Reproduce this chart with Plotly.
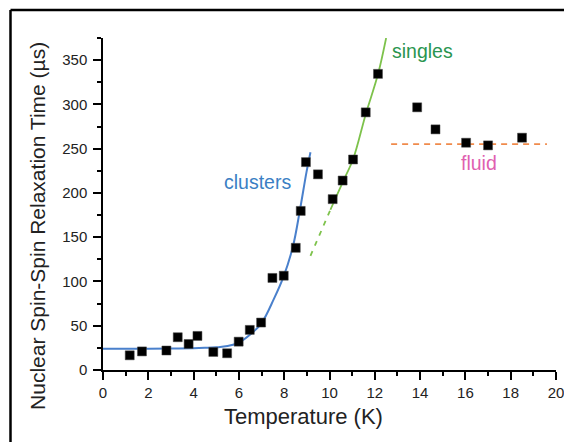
import plotly.graph_objects as go

# Measured data (Temperature K, T2 µs)
temp_k = [1.18, 1.72, 2.80, 3.30, 3.78, 4.17, 4.87, 5.48, 5.99, 6.48, 6.98, 7.48, 7.98, 8.51, 8.73,
          8.96, 9.49, 10.14, 10.58, 11.04, 11.60, 12.14, 13.87, 14.68, 16.03, 17.00, 18.50]
t2_us = [16.6, 21.0, 22.0, 37.0, 29.4, 38.5, 20.4, 18.9, 32.0, 45.3, 53.6, 104.0, 106.5, 138.0, 179.7,
         234.8, 221.0, 193.0, 214.0, 237.8, 291.0, 334.5, 296.7, 271.8, 256.7, 253.7, 262.4]

# Cluster fit curve
clusters_x = [0, 1, 2, 3, 4, 4.5, 5, 5.5, 6, 6.5, 7, 7.54, 7.98, 8.39, 8.69, 8.98, 9.16]
clusters_y = [24, 24, 24.1, 24.3, 24.6, 25, 25.6, 27, 31, 40, 53, 80, 106, 140, 180, 223, 246]

# Singles fit (solid part) and its dashed extrapolation
singles_x = [10.04, 10.58, 11.04, 11.60, 12.14, 12.50]
singles_y = [181, 212, 238, 289, 334, 375]
singles_ext_x = [9.16, 10.04]
singles_ext_y = [129, 181]

# Fluid level
fluid_x = [12.72, 19.6]
fluid_y = [255.2, 255.2]

# Tick values
x_ticks = [0, 2, 4, 6, 8, 10, 12, 14, 16, 18, 20]
y_ticks = [0, 50, 100, 150, 200, 250, 300, 350]

FONT = "Liberation Sans, Arial, Helvetica, sans-serif"

fig = go.Figure()
fig.add_trace(go.Scatter(x=clusters_x, y=clusters_y, mode="lines",
                         line=dict(color="#4A80CC", width=2, shape="spline"), hoverinfo="skip"))
fig.add_trace(go.Scatter(x=singles_ext_x, y=singles_ext_y, mode="lines",
                         line=dict(color="#7DC24B", width=1.8, dash="5px,6px"), hoverinfo="skip"))
fig.add_trace(go.Scatter(x=singles_x, y=singles_y, mode="lines",
                         line=dict(color="#7DC24B", width=1.8, shape="spline"), hoverinfo="skip"))
fig.add_trace(go.Scatter(x=fluid_x, y=fluid_y, mode="lines",
                         line=dict(color="#F08A4B", width=1.8, dash="6px,5px"), hoverinfo="skip"))
fig.add_trace(go.Scatter(x=temp_k, y=t2_us, mode="markers",
                         marker=dict(symbol="square", size=9, color="black",
                                     line=dict(width=0.5, color="#444"))))

axis_common = dict(showgrid=False, zeroline=False, showline=True, linecolor="black", linewidth=1.5,
                   ticks="outside", ticklen=8, tickwidth=1.5, tickcolor="black", automargin=False,
                   ticklabeloverflow="allow",
                   tickfont=dict(family=FONT, size=15, color="#222"))

fig.update_xaxes(range=[0, 20], tickvals=x_ticks, **axis_common,
                 minor=dict(ticks="outside", ticklen=4, tickwidth=1.5, dtick=1, tick0=0, tickcolor="black"))
fig.update_yaxes(range=[0, 375], tickvals=y_ticks, ticklabelstandoff=3, **axis_common,
                 minor=dict(ticks="outside", ticklen=4, tickwidth=1.5, dtick=25, tick0=0, tickcolor="black"))

annos = [
    dict(text="clusters", x=6.8, y=212, xref="x", yref="y", showarrow=False,
         font=dict(family=FONT, size=19.5, color="#3B7FC4")),
    dict(text="singles", x=14.1, y=360.5, xref="x", yref="y", showarrow=False,
         font=dict(family=FONT, size=19.5, color="#2A9550")),
    dict(text="fluid", x=16.62, y=233.3, xref="x", yref="y", showarrow=False,
         font=dict(family=FONT, size=19.5, color="#E060B0")),
    dict(text="Temperature (K)", x=0.4426, y=-0.1386, xref="paper", yref="paper", showarrow=False,
         xanchor="center", yanchor="middle", font=dict(family=FONT, size=22, color="#222")),
    dict(text="Nuclear Spin-Spin Relaxation Time (µs)", x=-0.1435, y=0.434, xref="paper", yref="paper",
         showarrow=False, textangle=-90, xanchor="center", yanchor="middle",
         font=dict(family=FONT, size=21, color="#222")),
]

shapes = [
    dict(type="line", xref="paper", yref="paper", x0=-0.2042, x1=1.02, y0=1.0843, y1=1.0843,
         line=dict(color="black", width=2.5)),
    dict(type="line", xref="paper", yref="paper", x0=-0.2042, x1=-0.2042, y0=-0.22, y1=1.0843,
         line=dict(color="black", width=2.5)),
]

fig.update_layout(width=564, height=442, margin=dict(l=103, r=8, t=38, b=72),
                  paper_bgcolor="white", plot_bgcolor="white", showlegend=False,
                  annotations=annos, shapes=shapes, font=dict(family=FONT))

fig.write_html("out.html", config={"displayModeBar": False},
               post_script="document.body.style.margin='0';document.body.style.overflow='hidden';")
